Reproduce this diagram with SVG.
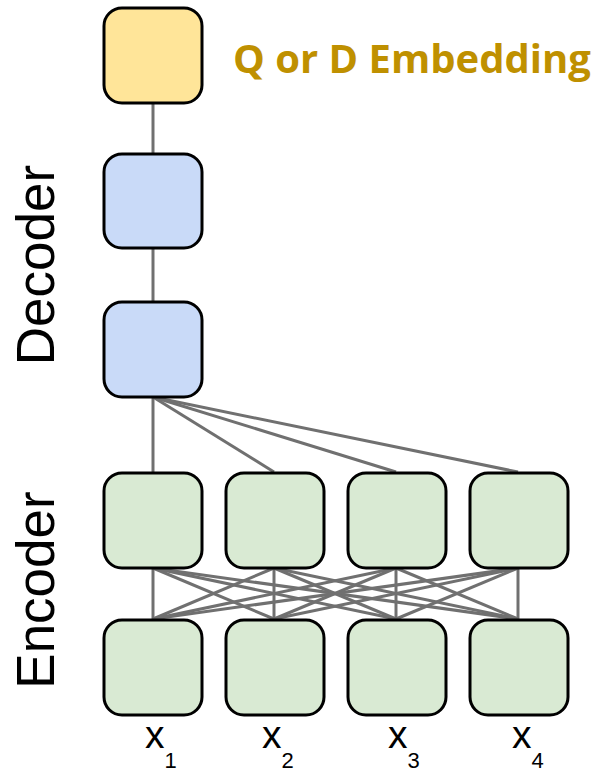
<svg xmlns="http://www.w3.org/2000/svg" width="600" height="774" viewBox="0 0 600 774">
  <style>
    .node { stroke: #000; stroke-width: 3; }
    .emb { fill: #FFE599; }
    .dec { fill: #C9DAF8; }
    .enc { fill: #D9EAD3; }
    .edge { stroke: #707070; stroke-width: 3; fill: none; }
    .side { font-family: "Liberation Sans", Arial, sans-serif; font-size: 53px; fill: #000; }
    .xin { font-family: "Liberation Sans", Arial, sans-serif; font-size: 39px; fill: #000; }
    .sub { font-size: 22px; }
    .title { font-family: "Open Sans", "Liberation Sans", sans-serif; font-weight: bold; font-size: 40px; fill: #BF9000; }
  </style>
  <rect width="600" height="774" fill="#fff"/>

  <!-- connectors -->
  <g id="connectors" class="edge">
    <!-- embedding to decoder chain -->
    <line x1="153" y1="103" x2="153" y2="154"/>
    <line x1="153" y1="248" x2="153" y2="301"/>
    <!-- last decoder step attends to every encoder output -->
    <line x1="153" y1="397" x2="153" y2="472"/>
    <line x1="153" y1="397" x2="274" y2="472"/>
    <line x1="153" y1="397" x2="396" y2="472"/>
    <line x1="153" y1="397" x2="518" y2="472"/>
    <!-- fully connected encoder layers -->
    <line x1="153" y1="568" x2="153" y2="619"/>
    <line x1="153" y1="568" x2="274" y2="619"/>
    <line x1="153" y1="568" x2="396" y2="619"/>
    <line x1="153" y1="568" x2="518" y2="619"/>
    <line x1="274" y1="568" x2="153" y2="619"/>
    <line x1="274" y1="568" x2="274" y2="619"/>
    <line x1="274" y1="568" x2="396" y2="619"/>
    <line x1="274" y1="568" x2="518" y2="619"/>
    <line x1="396" y1="568" x2="153" y2="619"/>
    <line x1="396" y1="568" x2="274" y2="619"/>
    <line x1="396" y1="568" x2="396" y2="619"/>
    <line x1="396" y1="568" x2="518" y2="619"/>
    <line x1="518" y1="568" x2="153" y2="619"/>
    <line x1="518" y1="568" x2="274" y2="619"/>
    <line x1="518" y1="568" x2="396" y2="619"/>
    <line x1="518" y1="568" x2="518" y2="619"/>
  </g>

  <!-- output embedding -->
  <g id="embedding">
    <rect class="node emb" x="104" y="8" width="98" height="95" rx="18"/>
    <text class="title" x="233" y="73">Q or D Embedding</text>
  </g>

  <!-- decoder -->
  <g id="decoder1"><rect class="node dec" x="104" y="154" width="98" height="94" rx="18"/></g>
  <g id="decoder2"><rect class="node dec" x="104" y="302" width="98" height="95" rx="18"/></g>

  <!-- encoder, upper layer -->
  <g id="enc-top-1"><rect class="node enc" x="104" y="473" width="98" height="95" rx="18"/></g>
  <g id="enc-top-2"><rect class="node enc" x="226" y="473" width="98" height="95" rx="18"/></g>
  <g id="enc-top-3"><rect class="node enc" x="348" y="473" width="98" height="95" rx="18"/></g>
  <g id="enc-top-4"><rect class="node enc" x="470" y="473" width="98" height="95" rx="18"/></g>

  <!-- encoder, lower layer -->
  <g id="enc-bot-1"><rect class="node enc" x="104" y="620" width="98" height="95" rx="18"/></g>
  <g id="enc-bot-2"><rect class="node enc" x="226" y="620" width="98" height="95" rx="18"/></g>
  <g id="enc-bot-3"><rect class="node enc" x="348" y="620" width="98" height="95" rx="18"/></g>
  <g id="enc-bot-4"><rect class="node enc" x="470" y="620" width="98" height="95" rx="18"/></g>

  <!-- side labels -->
  <text class="side" transform="translate(54,265) rotate(-90)" text-anchor="middle">Decoder</text>
  <text class="side" transform="translate(54,590) rotate(-90)" text-anchor="middle">Encoder</text>

  <!-- inputs -->
  <g id="inputs">
    <text class="xin" x="145" y="748">x<tspan class="sub" dy="20">1</tspan></text>
    <text class="xin" x="262" y="748">x<tspan class="sub" dy="20">2</tspan></text>
    <text class="xin" x="388" y="748">x<tspan class="sub" dy="20">3</tspan></text>
    <text class="xin" x="512" y="748">x<tspan class="sub" dy="20">4</tspan></text>
  </g>
</svg>
